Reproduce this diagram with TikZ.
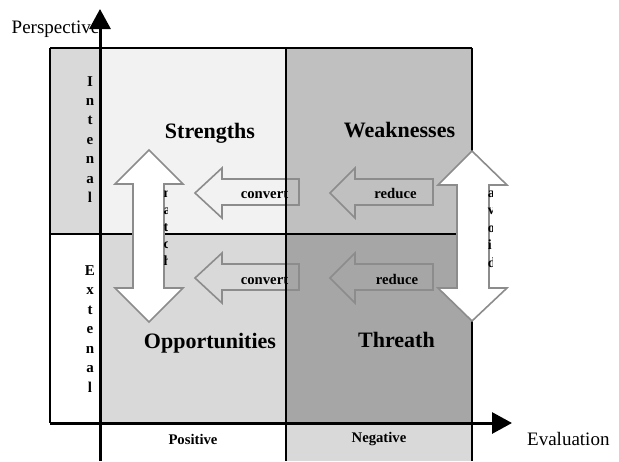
\documentclass[tikz,border=0pt]{standalone}
\usepackage{fontspec}
\setmainfont{Liberation Serif}
\usetikzlibrary{arrows.meta}
\definecolor{cIn}{HTML}{D9D9D9}
\definecolor{cStr}{HTML}{F2F2F2}
\definecolor{cWeak}{HTML}{C0C0C0}
\definecolor{cOpp}{HTML}{D9D9D9}
\definecolor{cThr}{HTML}{A6A6A6}
\definecolor{cNeg}{HTML}{D9D9D9}
\definecolor{cArr}{HTML}{8C8C8C}
\begin{document}
\begin{tikzpicture}[x=1pt,y=-1pt,
  gridline/.style={line width=1.8pt,black},
  axisline/.style={line width=3pt,black},
  hollowarrow/.style={draw=cArr,line width=1.6pt,line join=miter},
  dblarrow/.style={draw=cArr,fill=white,line width=1.6pt,line join=miter},
  titletext/.style={font=\fontsize{22}{26}\selectfont\bfseries,anchor=base,inner sep=0pt},
  smalltext/.style={font=\fontsize{14.7}{17}\selectfont\bfseries,anchor=base,inner sep=0pt},
  vletter/.style={font=\fontsize{15}{18}\selectfont\bfseries,anchor=base,inner sep=0pt},
  cliplet/.style={font=\fontsize{14}{17}\selectfont\bfseries,anchor=base west,inner sep=0pt},
  axistext/.style={font=\fontsize{19}{22}\selectfont,anchor=base west,inner sep=0pt}]
\useasboundingbox (0,0) rectangle (619,461);

% cell fills
\fill[cIn] (50,48) rectangle (100,234);
\fill[white] (50,234) rectangle (100,423);
\fill[cStr] (100,48) rectangle (286,234);
\fill[cWeak] (286,48) rectangle (472,234);
\fill[cOpp] (100,234) rectangle (286,423);
\fill[cThr] (286,234) rectangle (472,423);
\fill[cNeg] (286,423) rectangle (472,461);

% horizontal hollow arrows
\foreach \dy in {0,85}{
  \draw[hollowarrow] (195,193+\dy) -- (222,168+\dy) -- (222,179+\dy) -- (299,179+\dy)
     -- (299,205+\dy) -- (222,205+\dy) -- (222,218+\dy) -- cycle;
  \draw[hollowarrow] (330,193+\dy) -- (355,168+\dy) -- (355,179+\dy) -- (433,179+\dy)
     -- (433,205+\dy) -- (355,205+\dy) -- (355,218+\dy) -- cycle;
}

% grid lines
\draw[gridline] (50,48) -- (472,48);
\draw[gridline] (50,234) -- (472,234);
\draw[gridline] (50,48) -- (50,423);
\draw[gridline] (286,48) -- (286,461);
\draw[gridline] (472,48) -- (472,461);

% axes
\coordinate (vbot) at (100,461);
\coordinate (vtop) at (100,9);
\coordinate (hleft) at (50,423);
\coordinate (hright) at (512,423);
\draw[axisline,-{Triangle[length=20pt,width=21pt]}] (vbot) -- (vtop);
\draw[axisline,-{Triangle[length=20pt,width=21pt]}] (hleft) -- (hright);

% vertical double arrows
\draw[dblarrow] (149,150) -- (183,184) -- (164,184) -- (164,288) -- (183,288) -- (149,322)
   -- (115,288) -- (133,288) -- (133,184) -- (115,184) -- cycle;
\draw[dblarrow] (472,151) -- (507,185) -- (489,185) -- (489,288) -- (507,288) -- (472,321)
   -- (438,288) -- (457,288) -- (457,185) -- (438,185) -- cycle;

% clipped letters inside double arrows
\begin{scope}
  \clip (150,180) rectangle (167.7,300);
  \foreach \l [count=\i] in {m,a,t,c,h}
    \node[cliplet] at (163.3,{197+(\i-1)*17}) {\l};
\end{scope}
\begin{scope}
  \clip (470,180) rectangle (492,300);
  \foreach \l [count=\i] in {a,v,o,i,d}
    \node[cliplet] at (487.7,{197+(\i-1)*17.5}) {\l};
\end{scope}

% vertical side labels
\foreach \l [count=\i] in {I,n,t,e,n,a,l}
  \node[vletter] at (90,{86+(\i-1)*19.4}) {\l};
\foreach \l [count=\i] in {E,x,t,e,n,a,l}
  \node[vletter] at (90,{275+(\i-1)*19.5}) {\l};

% titles
\node[titletext] (str) at (210,138) {Strengths};
\node[titletext] (weak) at (399.5,137) {Weaknesses};
\node[titletext] (opp) at (210,348) {Opportunities};
\node[titletext] (thr) at (396.5,347) {Threath};

% arrow labels
\node[smalltext] (conv1) at (264.5,198) {convert};
\node[smalltext] (conv2) at (264.5,284) {convert};
\node[smalltext] (red1) at (395.5,198) {reduce};
\node[smalltext] (red2) at (397,284) {reduce};

% bottom row labels
\node[smalltext] (pos) at (193,444) {Positive};
\node[smalltext] (neg) at (379,442) {Negative};

% axis labels
\node[axistext] (persp) at (11.5,33) {Perspective};
\node[axistext] (eval) at (527,445) {Evaluation};
\end{tikzpicture}
\end{document}
